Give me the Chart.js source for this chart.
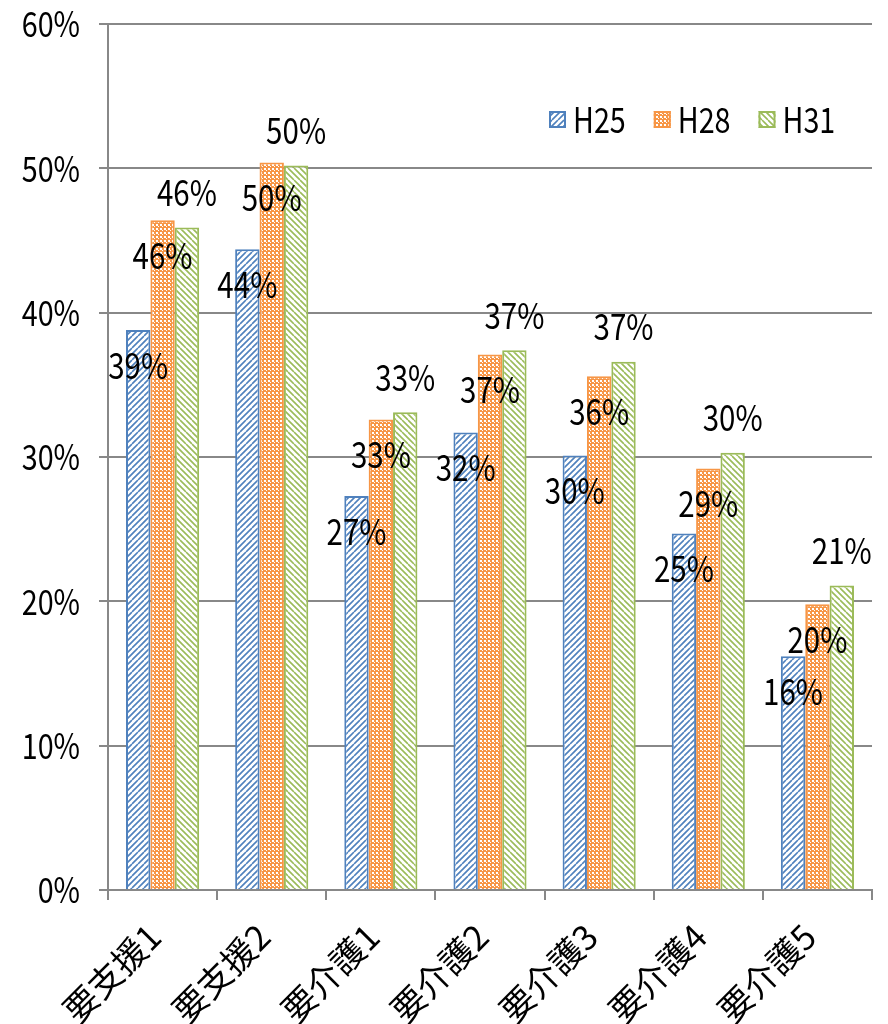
<!DOCTYPE html>
<html>
<head>
<meta charset="utf-8">
<script src="https://cdn.jsdelivr.net/npm/chart.js@4"></script>
<style>
  html, body { margin: 0; padding: 0; background: #fff; }
  #wrap { width: 888px; height: 1024px; }
</style>
</head>
<body>
<div id="wrap"><canvas id="c" width="888" height="1024"></canvas></div>
<script>
// Care-level categories and the share per survey year (percent)
const categories = ['要支援1', '要支援2', '要介護1', '要介護2', '要介護3', '要介護4', '要介護5'];
const seriesNames = ['H25', 'H28', 'H31'];
const h25 = [38.8, 44.4, 27.3, 31.7, 30.1, 24.7, 16.2];
const h28 = [46.4, 50.4, 32.6, 37.1, 35.6, 29.2, 19.8];
const h31 = [45.9, 50.2, 33.1, 37.4, 36.6, 30.3, 21.1];
const yTicks = [0, 10, 20, 30, 40, 50, 60];

const FONT = "'Noto Sans CJK JP', 'Noto Sans', sans-serif";
const NARROW = 0.82;               // horizontal squeeze for the Latin text
const GRID = '#888888';
const BLUE = '#4f81bd', ORANGE = '#f79646', GREEN = '#9bbb59';

// Draw a string squeezed horizontally, anchored at (x, y)
function narrowText(ctx, text, x, y, align) {
  ctx.save();
  ctx.translate(x, y);
  ctx.scale(NARROW, 1);
  ctx.textAlign = align;
  ctx.fillText(text, 0, 0);
  ctx.restore();
}

// Hatched fills for the three series
function hatch(color, dir) {
  const s = 12;
  const c = document.createElement('canvas');
  c.width = c.height = s;
  const g = c.getContext('2d');
  g.fillStyle = '#fff';
  g.fillRect(0, 0, s, s);
  g.strokeStyle = color;
  g.lineWidth = 1.6;
  g.beginPath();
  for (let k = -2; k <= 4; k++) {
    const o = k * s / 2;
    if (dir === 'up') { g.moveTo(o - s, s); g.lineTo(o, 0); }
    else { g.moveTo(o - s, 0); g.lineTo(o, s); }
  }
  g.stroke();
  return g.createPattern(c, 'repeat');
}
function checker(color) {
  const s = 4;
  const c = document.createElement('canvas');
  c.width = c.height = s;
  const g = c.getContext('2d');
  g.fillStyle = color;
  g.fillRect(0, 0, s, s);
  g.fillStyle = '#fff';
  g.fillRect(0, 0, 2, 2);
  g.fillRect(2, 2, 1, 1);
  return g.createPattern(c, 'repeat');
}

// Value labels: H25/H28 sit below the bar top, H31 above it
const valueLabels = {
  id: 'valueLabels',
  afterDatasetsDraw(chart) {
    const ctx = chart.ctx;
    ctx.save();
    ctx.font = '36px ' + FONT;
    ctx.fillStyle = '#000';
    ctx.textBaseline = 'middle';
    chart.data.datasets.forEach((ds, i) => {
      chart.getDatasetMeta(i).data.forEach((bar, j) => {
        narrowText(ctx, Math.round(ds.data[j]) + '%', bar.x, bar.y + ds.labelShift, 'center');
      });
    });
    ctx.restore();
  }
};

// Percent labels along the value axis
const yLabels = {
  id: 'yLabels',
  afterDraw(chart) {
    const ctx = chart.ctx;
    const y = chart.scales.y;
    ctx.save();
    ctx.font = '35px ' + FONT;
    ctx.fillStyle = '#000';
    ctx.textBaseline = 'middle';
    y.ticks.forEach(t => {
      narrowText(ctx, t.value + '%', y.right - 28, y.getPixelForValue(t.value), 'right');
    });
    ctx.restore();
  }
};

// Legend drawn inside the plot, upper right
const cornerLegend = {
  id: 'cornerLegend',
  afterDraw(chart) {
    const ctx = chart.ctx;
    const a = chart.chartArea;
    ctx.save();
    ctx.font = '35px ' + FONT;
    ctx.textBaseline = 'middle';
    let x = a.left + 441;
    const y = a.top + 96;
    chart.data.datasets.forEach(ds => {
      ctx.fillStyle = ds.backgroundColor;
      ctx.fillRect(x, y - 9, 17, 17);
      ctx.strokeStyle = ds.borderColor;
      ctx.lineWidth = 2;
      ctx.strokeRect(x + 1, y - 8, 15, 15);
      ctx.fillStyle = '#000';
      narrowText(ctx, ds.label, x + 24, y, 'left');
      x += 24 + ctx.measureText(ds.label).width * NARROW + 28;
    });
    ctx.restore();
  }
};

const ctx = document.getElementById('c').getContext('2d');
new Chart(ctx, {
  type: 'bar',
  data: {
    labels: categories,
    datasets: [
      { label: seriesNames[0], data: h25, backgroundColor: hatch(BLUE, 'up'), borderColor: BLUE, borderWidth: 2, labelShift: 35 },
      { label: seriesNames[1], data: h28, backgroundColor: checker(ORANGE), borderColor: ORANGE, borderWidth: 2, labelShift: 35 },
      { label: seriesNames[2], data: h31, backgroundColor: hatch(GREEN, 'down'), borderColor: GREEN, borderWidth: 2, labelShift: -35 }
    ]
  },
  options: {
    responsive: false,
    animation: false,
    devicePixelRatio: 1,
    layout: { padding: { left: 0, right: 16, top: 24, bottom: 0 } },
    datasets: { bar: { categoryPercentage: 0.67, barPercentage: 1.0 } },
    plugins: { legend: { display: false }, tooltip: { enabled: false } },
    scales: {
      x: {
        grid: { offset: true, drawOnChartArea: false, drawTicks: true, tickLength: 10, color: GRID, lineWidth: 2 },
        border: { color: GRID, width: 2 },
        ticks: { autoSkip: false, minRotation: 45, maxRotation: 45, color: '#000', font: { family: FONT, size: 34 }, padding: 16, labelOffset: -8 },
        afterFit(s) { s.height = 134; }
      },
      y: {
        min: 0,
        max: 60,
        afterBuildTicks(s) { s.ticks = yTicks.map(v => ({ value: v })); },
        ticks: { display: false },
        grid: { color: GRID, lineWidth: 2, tickLength: 9 },
        border: { color: GRID, width: 2 },
        afterFit(s) { s.width = 108; }
      }
    }
  },
  plugins: [valueLabels, yLabels, cornerLegend]
});
</script>
</body>
</html>
